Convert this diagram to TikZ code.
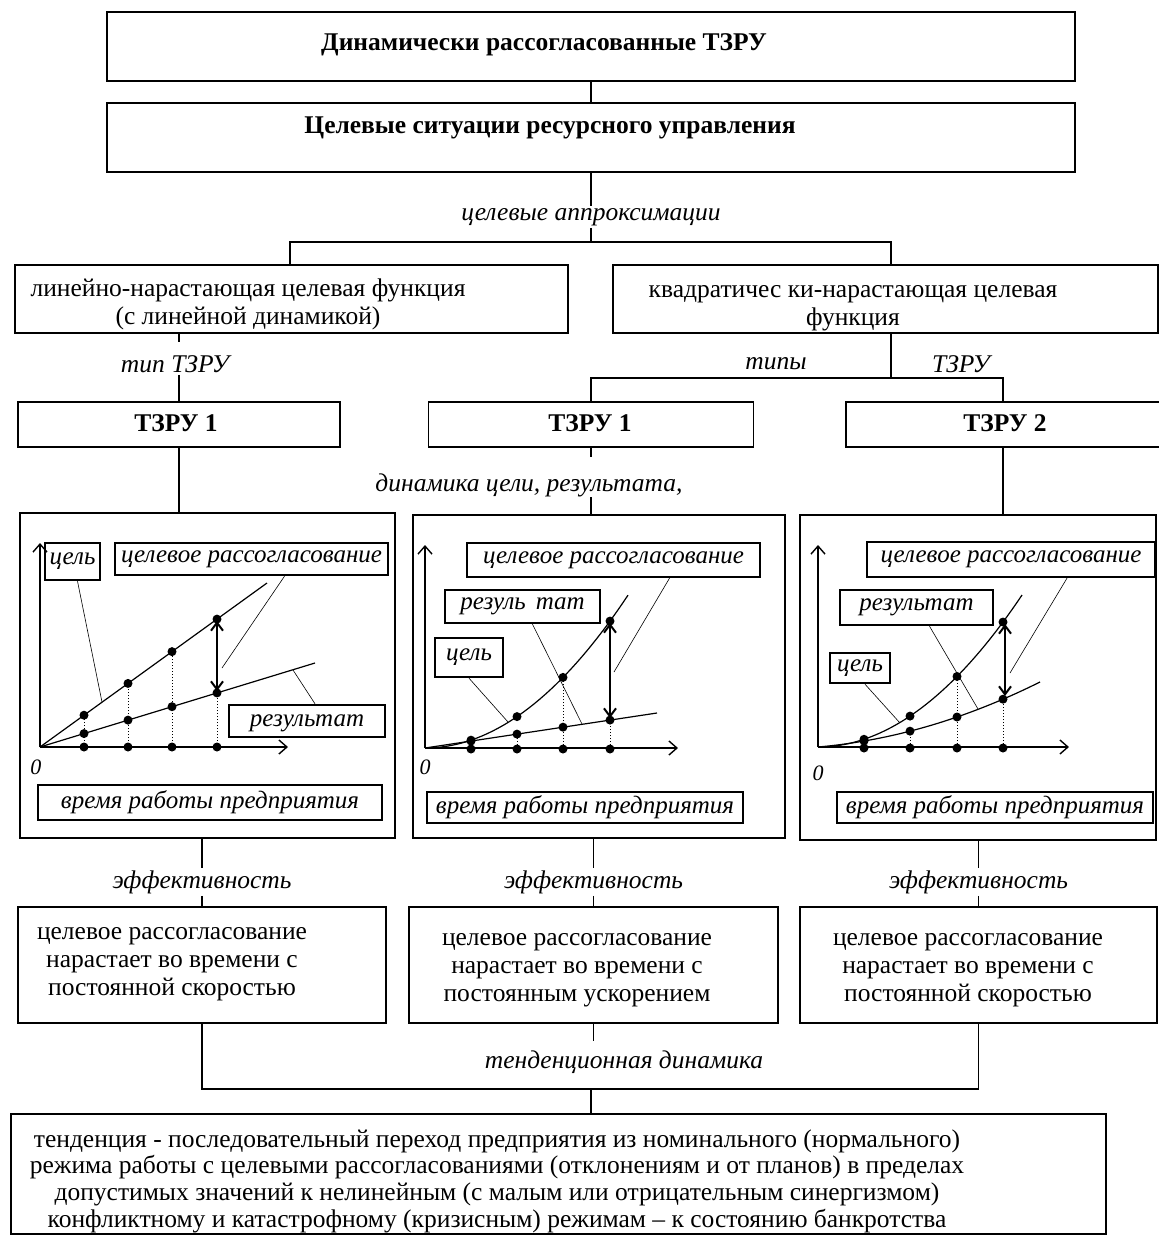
\documentclass[tikz,border=0pt]{standalone}
\usepackage{fontspec}
\setmainfont{Liberation Serif}
\newfontfamily\plotfont{Liberation Serif}
\usetikzlibrary{arrows.meta}

\begin{document}
\begin{tikzpicture}[x=1pt, y=-1pt,
		box/.style={draw, line width=1.6pt, inner sep=0pt},
		txt/.style={font=\fontsize{25.5}{28}\selectfont, align=center, inner sep=0pt},
		hdr/.style={font=\bfseries\fontsize{25.5}{28}\selectfont, inner sep=0pt},
		itl/.style={font=\itshape\fontsize{25.5}{26}\selectfont, inner sep=2pt},
		lbox/.style={draw, line width=2.4pt, inner sep=0pt, font=\plotfont\itshape\fontsize{25}{26}\selectfont},
		con/.style={line width=1.6pt},
		axis/.style={line width=1.4pt, -{Straight Barb[length=8pt, width=14pt]}},
		dbl/.style={line width=2pt, {Straight Barb[length=8pt, width=12pt]}-{Straight Barb[length=8pt, width=12pt]}},
		curve/.style={line width=1.2pt},
		leader/.style={line width=0.6pt},
		]
	\useasboundingbox (0,0) rectangle (1159,1240);
	% top boxes
	\node[box, minimum width=968pt, minimum height=69pt] (dyn) at (591,46.5) {};
	\node[hdr] (dyntxt) at (544,45) {Динамически рассогласованные ТЗРУ};
	\node[box, minimum width=968pt, minimum height=69pt] (sit) at (591,137.5) {};
	\node[hdr] (sittxt) at (550,128) {Целевые ситуации ресурсного управления};
	\draw[con] (dyn.south) -- (sit.north);
	\node[itl] (appr) at (591,217) {целевые аппроксимации};
	\draw[con] (sit.south) -- (appr.north);
	\coordinate (bar1) at (591,242);
	\draw[con] (appr.south) -- (bar1);

	% approximation boxes
	\node[box, minimum width=553pt, minimum height=68pt] (lin) at (291.5,299) {};
	\node[txt] (lintxt) at (248,304) {линейно-нарастающая целевая функция\\(с линейной динамикой)};
	\node[box, minimum width=545pt, minimum height=68pt] (quad) at (885.5,299) {};
	\node[txt] (quadtxt) at (853,308) {квадратичес ки-нарастающая целевая\\функция};
	\draw[con] (lin.north -| 290,0) |- (bar1) -| (quad.north -| 891,0);

	% types
	\node[box, minimum width=322pt, minimum height=45pt] (tza) at (179,424.5) {};
	\node[hdr] (tzatxt) at (176,423) {ТЗРУ 1};
	\node[box, minimum width=325pt, minimum height=45pt] (tzb) at (591,424.5) {};
	\node[hdr] (tzbtxt) at (590,423) {ТЗРУ 1};
	\node[box, minimum width=314pt, minimum height=45pt] (tzc) at (1003,424.5) {};
	\node[hdr] (tzctxt) at (1005,423) {ТЗРУ 2};
	\coordinate (s1) at (179,342);
	\draw[con] (s1 |- lin.south) -- (s1);
	\node[itl] (tip) at (175,364) {тип ТЗРУ};
	\draw[con] (tip.south -| tza.north) -- (tza.north);
	\coordinate (bar2) at (891,378);
	\draw[con] (bar2 |- quad.south) -- (bar2);
	\draw[con] (tzb.north) |- (bar2) -| (tzc.north);
	\node[itl] (tipy) at (776,364) {типы};
	\node[itl] (tipz) at (961,364) {ТЗРУ};

	% panels
	\node[box, minimum width=375pt, minimum height=325pt] (p1) at (207.5,675.5) {};
	\node[box, minimum width=372pt, minimum height=323pt] (p2) at (599,676.5) {};
	\node[box, minimum width=356pt, minimum height=325pt] (p3) at (978,677.5) {};
	\draw[con] (tza.south) -- (tza.south |- p1.north);
	\draw[con] (tzb.south) -- ++(0,9);
	\node[itl] (dyn2) at (529,485) {динамика цели, результата,};
	\draw[con] (p2.north -| tzb.south) -- ++(0,-17);
	\draw[con] (tzc.south) -- (tzc.south |- p3.north);

	% panel 1
	\draw[axis] (40,747) -- (40,543);
	\draw[axis] (40,747) -- (288,747);
	\draw[curve] (40,747) -- (267,583);
	\draw[curve] (40,747) -- (315,663);
	\foreach \x in {84,128,172} \draw[dotted, line width=1pt] (\x,747) -- (\x,{747-0.7225*(\x-40)});
	\draw[dotted, line width=1pt] (217,747) -- (217,693);
	\foreach \x in {84,128,172,217} {
		\fill (\x,747) circle[radius=4.5pt];
		\fill (\x,{747-0.7225*(\x-40)}) circle[radius=4.5pt];
		\fill (\x,{747-0.3055*(\x-40)}) circle[radius=4.5pt];
	}
	\draw[dbl] (217,621) -- (217,691);
	\node[lbox, minimum width=55pt, minimum height=37pt] (goal1) at (72.5,561.5) {цель};
	\node[lbox, minimum width=273pt, minimum height=32pt] (mis1) at (251.5,559) {целевое рассогласование};
	\node[lbox, minimum width=156pt, minimum height=32pt, text depth=0pt, text height=10pt] (res1) at (307,721) {результат};
	\node[lbox, minimum width=344pt, minimum height=35pt] (time1) at (210,802.5) {время работы предприятия};
	\node[font=\plotfont\itshape\fontsize{22}{22}\selectfont] (zero1) at (36,767) {0};
	\draw[leader] ([xshift=5pt]goal1.south) -- (102,702);
	\draw[leader] ([xshift=33pt]mis1.south) -- (222,668);
	\draw[leader] ([xshift=8pt]res1.north) -- (293,670);

	% panel 2
	\draw[axis] (425,748) -- (425,545);
	\draw[axis] (425,748) -- (678,748);
	\draw[curve] plot[domain=425:628, samples=40] (\x,{748-(0.0609*(\x-425))^2});
	\draw[curve] (425,748) -- (657,713);
	\draw[dotted, line width=1pt] (517,748) -- (517,734);
	\draw[dotted, line width=1pt] (563,748) -- (563,677);
	\draw[dotted, line width=1pt] (610,748) -- (610,720);
	\foreach \x in {471,517,563,610} {
		\fill (\x,749) circle[radius=4.5pt];
		\fill (\x,{748-(0.0609*(\x-425))^2}) circle[radius=4.5pt];
		\fill (\x,{748-0.151*(\x-425)}) circle[radius=4.5pt];
	}
	\draw[dbl] (610,623) -- (610,718);
	\node[lbox, minimum width=293pt, minimum height=34pt] (mis2) at (613.5,560) {целевое рассогласование};
	\node[lbox, minimum width=155pt, minimum height=33pt] (res2) at (522.5,606.5) {резуль\hspace{10pt}тат};
	\node[lbox, minimum width=68pt, minimum height=39pt] (goal2) at (469,657.5) {цель};
	\node[lbox, minimum width=316pt, minimum height=31pt] (time2) at (585,807.5) {время работы предприятия};
	\node[font=\plotfont\itshape\fontsize{22}{22}\selectfont] (zero2) at (425,767) {0};
	\draw[leader] (goal2.south) -- (508,722);
	\draw[leader] ([xshift=10pt]res2.south) -- (582,724);
	\draw[leader] ([xshift=56pt]mis2.south) -- (614,672);

	% panel 3
	\draw[axis] (818,747) -- (818,545);
	\draw[axis] (818,747) -- (1069,747);
	\draw[curve] plot[domain=818:1022, samples=40] (\x,{747-(0.06042*(\x-818))^2});
	\draw[curve] plot[domain=818:1040, samples=40] (\x,{747-(0.03045*(\x-818))^2-0.0869*(\x-818)});
	\draw[dotted, line width=1pt] (910,747) -- (910,731);
	\draw[dotted, line width=1pt] (957,747) -- (957,677);
	\draw[dotted, line width=1pt] (1003,747) -- (1003,699);
	\foreach \x in {864,910,957,1003} {
		\fill (\x,748) circle[radius=4.5pt];
		\fill (\x,{747-(0.06042*(\x-818))^2}) circle[radius=4.5pt];
		\fill (\x,{747-(0.03045*(\x-818))^2-0.0869*(\x-818)}) circle[radius=4.5pt];
	}
	\draw[dbl] (1005,624) -- (1005,696);
	\node[lbox, minimum width=288pt, minimum height=35pt] (mis3) at (1011,559.5) {целевое рассогласование};
	\node[lbox, minimum width=153pt, minimum height=35pt] (res3) at (916.5,607.5) {результат};
	\node[lbox, minimum width=60pt, minimum height=30pt] (goal3) at (860,668) {цель};
	\node[lbox, minimum width=316pt, minimum height=31pt] (time3) at (995,807.5) {время работы предприятия};
	\node[font=\plotfont\itshape\fontsize{22}{22}\selectfont] (zero3) at (818,773) {0};
	\draw[leader] ([xshift=5pt]goal3.south) -- (900,723);
	\draw[leader] ([xshift=13pt]res3.south) -- (978,709);
	\draw[leader] ([xshift=56pt]mis3.south) -- (1010,673);

	% efficiency
	\node[box, minimum width=368pt, minimum height=116pt] (ea) at (202,965) {};
	\node[box, minimum width=369pt, minimum height=116pt] (eb) at (593.5,965) {};
	\node[box, minimum width=357pt, minimum height=116pt] (ec) at (978.5,965) {};
	\node[txt] (eatxt) at (172,964) {целевое рассогласование\\нарастает во времени с\\постоянной скоростью};
	\node[txt] (ebtxt) at (577,970) {целевое рассогласование\\нарастает во времени с\\постоянным ускорением};
	\node[txt] (ectxt) at (968,970) {целевое рассогласование\\нарастает во времени с\\постоянной скоростью};
	\foreach \e/\p/\f in {ea/p1/fa, eb/p2/fb, ec/p3/fc} {
		\node[itl] (\f) at (\e.north |- 0,882) {эффективность};
		\draw[con] (\e.north |- \p.south) -- (\f.north);
		\draw[con] (\f.south) -- (\e.north);
	}

	% tendency
	\node[box, minimum width=1095pt, minimum height=120pt] (bot) at (558.5,1174) {};
	\node[txt, font=\fontsize{25.5}{26.7}\selectfont] (bottxt) at (497,1181) {тенденция - последовательный переход предприятия из номинального (нормального)\\
		режима работы с целевыми рассогласованиями (отклонениям и от планов) в пределах\\
		допустимых значений к нелинейным (с малым или отрицательным синергизмом)\\
		конфликтному и катастрофному (кризисным) режимам -- к состоянию банкротства};
	\draw[con] (eb.south) -- ++(0,17);
	\node[itl] (trend) at (624,1062) {тенденционная динамика};
	\coordinate (bar3) at (591,1089);
	\draw[con] (ea.south) |- (bar3) -| (ec.south);
	\draw[con] (bar3) -- (bar3 |- bot.north);
\end{tikzpicture}
\end{document}
